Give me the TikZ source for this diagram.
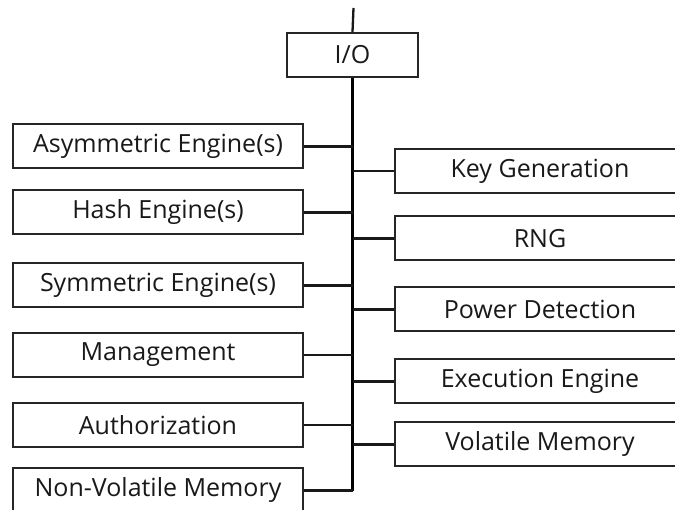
\documentclass[tikz,border=0pt]{standalone}
\usepackage{fontspec}
\setmainfont{Open Sans}
\begin{document}
\begin{tikzpicture}[x=1pt,y=-1pt,
  box/.style={draw=black!85, line width=2pt, fill=white, minimum width=290pt, minimum height=44pt, inner sep=0pt, font=\fontsize{25}{28}\selectfont, text=black!90},
  iobox/.style={box, minimum width=131pt},
  wire/.style={draw=black!90, line width=2.3pt},
  buswire/.style={draw=black, line width=3pt}]
\useasboundingbox (0,0) rectangle (675,510);
\clip (0,0) rectangle (675,510);
\node[iobox] (io) at (352.5,55) {I/O};
\node[box] (asym) at (158,146.5) {Asymmetric Engine(s)};
\node[box] (hash) at (158,212.5) {Hash Engine(s)};
\node[box] (sym) at (158,285.5) {Symmetric Engine(s)};
\node[box] (mgmt) at (158,355) {Management};
\node[box] (auth) at (158,425) {Authorization};
\node[box] (nvm) at (158,490.5) {Non-Volatile Memory};
\node[box] (key) at (540,171) {Key Generation};
\node[box] (rng) at (540,238.5) {RNG};
\node[box] (pwr) at (540,309.5) {Power Detection};
\node[box] (exe) at (540,381.5) {Execution Engine};
\node[box] (vol) at (540,444.5) {Volatile Memory};
\coordinate (top) at (353.5,8);
\coordinate (busbot) at (352.5,491);
\draw[wire] (top) -- (io.north);
\draw[buswire] (io.south) -- (busbot);
\foreach \n in {asym,hash,sym,mgmt,auth,nvm,key,rng,pwr,exe,vol}
  \draw[wire] (\n) -- (\n -| busbot);
\end{tikzpicture}
\end{document}
